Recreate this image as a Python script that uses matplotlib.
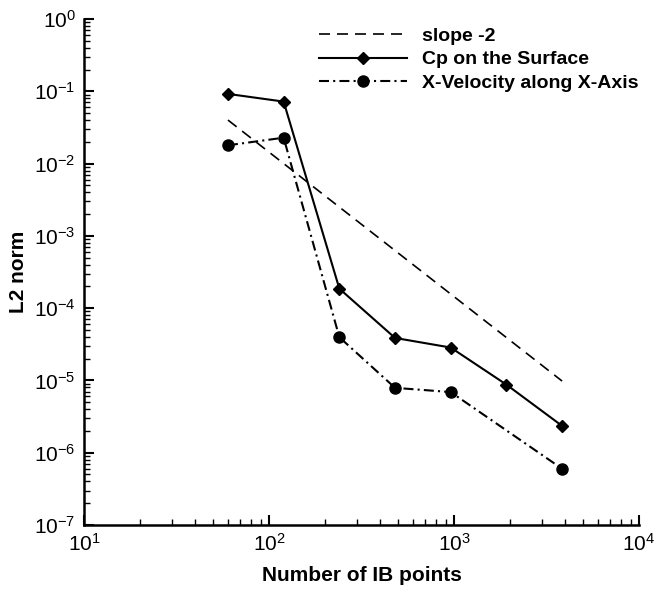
import matplotlib
matplotlib.use("Agg")
from matplotlib import pyplot as plt
from matplotlib.ticker import LogLocator, NullFormatter

plt.rcParams['font.family'] = ['Liberation Sans', 'DejaVu Sans']
plt.rcParams['mathtext.default'] = 'regular'

# data
ib_points = [60, 120, 240, 480, 960, 1920, 3840]
cp_surface = [0.092, 0.072, 1.86e-4, 3.87e-5, 2.85e-5, 8.75e-6, 2.35e-6]
vel_points = [60, 120, 240, 480, 960, 3840]
vel_xaxis = [0.0179, 0.0228, 3.96e-5, 7.9e-6, 6.9e-6, 6.0e-7]
slope_x = [60, 3840]
slope_y = [0.04, 9.8e-6]

fig = plt.figure(figsize=(6.56, 5.94), dpi=100)
ax = fig.add_axes([84 / 656, 1 - 525 / 594, (639 - 84) / 656, (525 - 19) / 594])

ax.plot(slope_x, slope_y, color='black', lw=1.2, dashes=(6.6, 4.2), label='slope -2')
ax.plot(ib_points, cp_surface, color='black', lw=1.5, marker='D', ms=6,
        label='Cp on the Surface')
ax.plot(vel_points, vel_xaxis, color='black', lw=1.5, marker='o', ms=8,
        dashes=(4.8, 2, 1, 2), label='X-Velocity along X-Axis')

ax.set_xscale('log')
ax.set_yscale('log')
ax.set_xlim(10, 1e4)
ax.set_ylim(1e-7, 1)

ax.xaxis.set_major_locator(LogLocator(base=10, numticks=10))
ax.yaxis.set_major_locator(LogLocator(base=10, numticks=10))
ax.xaxis.set_minor_locator(LogLocator(base=10, subs=range(2, 10), numticks=20))
ax.yaxis.set_minor_locator(LogLocator(base=10, subs=range(2, 10), numticks=20))
ax.xaxis.set_minor_formatter(NullFormatter())
ax.yaxis.set_minor_formatter(NullFormatter())

ax.spines['top'].set_visible(False)
ax.spines['right'].set_visible(False)
ax.spines['left'].set_linewidth(1.8)
ax.spines['bottom'].set_linewidth(1.8)
ax.tick_params(which='major', direction='in', length=7, width=1.5, labelsize=15, pad=6)
ax.tick_params(which='minor', direction='in', length=4, width=1.0)

ax.set_xlabel('Number of IB points', fontsize=15, fontweight='bold', labelpad=8)
ax.set_ylabel('L2 norm', fontsize=15, fontweight='bold', labelpad=4)

leg = ax.legend(loc='upper left', bbox_to_anchor=(319 / 656, 1 - 27 / 594),
                bbox_transform=fig.transFigure, frameon=False, borderpad=0,
                borderaxespad=0, fontsize=14, handlelength=4.5,
                handletextpad=0.8, labelspacing=0.32)
for t in leg.get_texts():
    t.set_fontweight('bold')

fig.savefig('out.png', dpi=100)
